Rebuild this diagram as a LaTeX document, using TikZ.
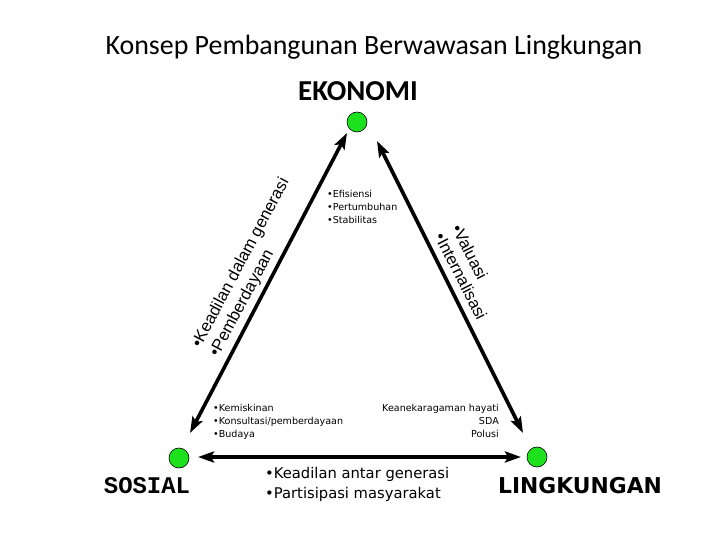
\documentclass[tikz,border=0pt]{standalone}
\usepackage{fontspec}
\setmainfont{Liberation Sans}
\newfontfamily\carlito{Carlito}
\newfontfamily\monof{Liberation Mono}
\newfontfamily\dejavu{DejaVu Sans}
\usetikzlibrary{arrows.meta}
\definecolor{dotgreen}{RGB}{30,225,30}
\begin{document}
\begin{tikzpicture}[x=1bp,y=-1bp,
  pt/.style={circle, draw=black, line width=0.6bp, fill=dotgreen, minimum size=20bp, inner sep=0},
  arr/.style={line width=3.6bp, {Stealth[length=16bp,width=11bp,inset=3bp]}-{Stealth[length=16bp,width=11bp,inset=3bp]}},
  small/.style={font=\dejavu\fontsize{9.6}{13.3}\selectfont, inner sep=0},
  side/.style={inner sep=0, anchor=base west, align=left},
  bottomtxt/.style={font=\dejavu\fontsize{14.8}{20}\selectfont, inner sep=0, align=left, anchor=base west},
]
\useasboundingbox (0,0) rectangle (720,540);
\fill[white] (0,0) rectangle (720,540);

% title and corner labels
\node[font=\carlito\fontsize{28}{32}\selectfont, inner sep=0, anchor=base] (title) at (374,55) {Konsep Pembangunan Berwawasan Lingkungan};
\node[font=\carlito\bfseries\fontsize{29}{32}\selectfont, inner sep=0, anchor=base] (eklabel) at (358,101) {EKONOMI};
\node[font=\monof\bfseries\fontsize{24}{28}\selectfont, inner sep=0, anchor=base] (soslabel) at (147,493) {SOSIAL};
\node[font=\dejavu\bfseries\fontsize{21.9}{26}\selectfont, inner sep=0, anchor=base] (linlabel) at (580,493) {LINGKUNGAN};

% points
\node[pt] (eko) at (357,122) {};
\node[pt] (sos) at (179,458) {};
\node[pt] (lin) at (537,457) {};

% arrow ends
\coordinate (eL) at (347,133);
\coordinate (sT) at (190,433);
\coordinate (eR) at (377,141);
\coordinate (lT) at (523,433);
\coordinate (sR) at (198,457);
\coordinate (lL) at (521,457);

\draw[arr] (sT) -- (eL);
\draw[arr] (lT) -- (eR);
\draw[arr] (sR) -- (lL);

% small texts (anchor = baseline of the last line)
\node[small, align=left, anchor=base west] (ekotxt) at (327,223.9) {•Efisiensi\\•Pertumbuhan\\•Stabilitas};
\node[small, align=left, anchor=base west] (sostxt) at (213,437.9) {•Kemiskinan\\•Konsultasi/pemberdayaan\\•Budaya};
\node[small, align=right, anchor=base east] (lintxt) at (499,437.9) {Keanekaragaman hayati\\SDA\\Polusi};

% rotated side texts
\node[side, rotate=62, font=\fontsize{16.7}{20}\selectfont] (lefttxt) at (218,358) {•Keadilan dalam generasi\\•Pemberdayaan};
\node[side, rotate=-63, font=\fontsize{16.7}{19}\selectfont] (righttxt) at (434.2,236.7) {•Valuasi\\•Internalisasi};

% bottom text
\node[bottomtxt] (bottxt) at (265,498) {•Keadilan antar generasi\\•Partisipasi masyarakat};
\end{tikzpicture}
\end{document}
